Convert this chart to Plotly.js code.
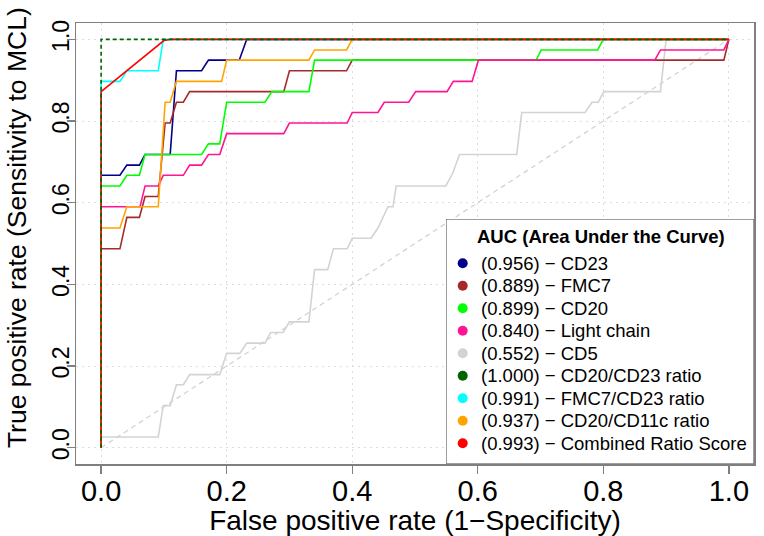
<!DOCTYPE html>
<html>
<head>
<meta charset="utf-8">
<script src="https://cdn.plot.ly/plotly-3.0.1.min.js"></script>
<style>
  body { margin: 0; background: #fff; }
  #chartDiv { width: 764px; height: 536px; }
</style>
</head>
<body>
<div id="chartDiv"></div>
<script>
// ROC curves (x = 1-specificity, y = sensitivity)
var cd23_x = [0, 0, 0.030, 0.041, 0.061, 0.070, 0.110, 0.120, 0.160, 0.171, 0.220, 0.232, 1]
var cd23_y = [0, 0.667, 0.667, 0.692, 0.692, 0.718, 0.718, 0.923, 0.923, 0.949, 0.949, 1, 1]

var fmc7_x = [0, 0, 0.030, 0.041, 0.061, 0.070, 0.091, 0.102, 0.110, 0.120, 0.131, 0.141, 0.291, 0.300, 0.391, 0.400, 0.992, 1]
var fmc7_y = [0, 0.487, 0.487, 0.564, 0.564, 0.615, 0.615, 0.795, 0.795, 0.846, 0.846, 0.872, 0.872, 0.923, 0.923, 0.949, 0.949, 1]

var cd20_x = [0, 0, 0.030, 0.041, 0.061, 0.070, 0.160, 0.171, 0.189, 0.200, 0.261, 0.272, 0.331, 0.340, 0.693, 0.701, 0.791, 0.800, 1]
var cd20_y = [0, 0.641, 0.641, 0.667, 0.667, 0.718, 0.718, 0.744, 0.744, 0.846, 0.846, 0.872, 0.872, 0.949, 0.949, 0.974, 0.974, 1, 1]

var light_x = [0, 0, 0.062, 0.070, 0.091, 0.099, 0.131, 0.141, 0.160, 0.171, 0.189, 0.200, 0.291, 0.300, 0.392, 0.400,
               0.441, 0.451, 0.490, 0.501, 0.551, 0.561, 0.591, 0.601, 0.882, 0.891, 0.992, 1]
var light_y = [0, 0.590, 0.590, 0.641, 0.641, 0.667, 0.667, 0.692, 0.692, 0.718, 0.718, 0.769, 0.769, 0.795, 0.795, 0.821,
               0.821, 0.846, 0.846, 0.872, 0.872, 0.897, 0.897, 0.949, 0.949, 0.974, 0.974, 1]

var cd5_x = [0, 0, 0.091, 0.099, 0.110, 0.120, 0.131, 0.141, 0.189, 0.200, 0.221, 0.232, 0.261, 0.270, 0.290, 0.300,
             0.331, 0.340, 0.361, 0.370, 0.392, 0.400, 0.430, 0.441, 0.457, 0.465, 0.470, 0.549, 0.560, 0.571,
             0.662, 0.670, 0.771, 0.782, 0.792, 0.801, 0.891, 0.900, 1]
var cd5_y = [0, 0.026, 0.026, 0.103, 0.103, 0.154, 0.154, 0.179, 0.179, 0.231, 0.231, 0.256, 0.256, 0.282, 0.282, 0.308,
             0.308, 0.436, 0.436, 0.487, 0.487, 0.513, 0.513, 0.538, 0.590, 0.590, 0.641, 0.641, 0.672, 0.718,
             0.718, 0.821, 0.821, 0.846, 0.846, 0.872, 0.872, 1, 1]

var ratio2023_x = [0, 0, 1]
var ratio2023_y = [0, 1, 1]

var ratioFmc7_x = [0, 0, 0.030, 0.041, 0.091, 0.099, 1]
var ratioFmc7_y = [0, 0.897, 0.897, 0.923, 0.923, 1, 1]

var ratio11c_x = [0, 0, 0.030, 0.041, 0.091, 0.102, 0.110, 0.120, 0.192, 0.200, 0.331, 0.340, 0.391, 0.400, 1]
var ratio11c_y = [0, 0.538, 0.538, 0.590, 0.590, 0.846, 0.846, 0.897, 0.897, 0.949, 0.949, 0.974, 0.974, 1, 1]

var combined_x = [0, 0, 0.100, 0.112, 1]
var combined_y = [0, 0.872, 0.997, 1, 1]

var chance_x = [0, 1]
var chance_y = [0, 1]

var names = ['CD23', 'FMC7', 'CD20', 'Light chain', 'CD5', 'CD20/CD23 ratio', 'FMC7/CD23 ratio', 'CD20/CD11c ratio', 'Combined Ratio Score']
var aucs = [0.956, 0.889, 0.899, 0.840, 0.552, 1.000, 0.991, 0.937, 0.993]
var colors = ['#00008B', '#A52A2A', '#00FF00', '#FF1493', '#D3D3D3', '#006400', '#00FFFF', '#FFA500', '#FF0000']

var tickVals = [0, 0.2, 0.4, 0.6, 0.8, 1.0]
var tickText = ['0.0', '0.2', '0.4', '0.6', '0.8', '1.0']

var curvesX = [cd23_x, fmc7_x, cd20_x, light_x, cd5_x, ratio2023_x, ratioFmc7_x, ratio11c_x, combined_x]
var curvesY = [cd23_y, fmc7_y, cd20_y, light_y, cd5_y, ratio2023_y, ratioFmc7_y, ratio11c_y, combined_y]

// draw order: dashed dark green goes on top of the red one
var order = [4, 0, 1, 2, 3, 6, 7, 8, 5]

var data = [{
  x: chance_x, y: chance_y, mode: 'lines', hoverinfo: 'skip', showlegend: false,
  line: {color: '#D3D3D3', width: 1.3, dash: '5px,4px'}
}]
order.forEach((i) => {
  data.push({
    x: curvesX[i], y: curvesY[i], mode: 'lines', name: names[i], showlegend: false,
    line: {color: colors[i], width: 1.6, dash: i == 5 ? '4px,3px' : 'solid'}
  })
})

// hand made legend box, in its own little pixel-scaled axes
var boxW = 308, boxH = 245
var legY = names.map((n, i) => 200.7 - i * 22.5)
data.push({
  x: names.map(() => 16.7), y: legY, xaxis: 'x2', yaxis: 'y2', mode: 'markers',
  hoverinfo: 'skip', showlegend: false,
  marker: {color: colors, size: 10, line: {width: 0}}
})

var font = 'Liberation Sans, Arial, sans-serif'
var annotations = [{
  xref: 'x2', yref: 'y2', x: 155, y: 227.3, showarrow: false, xanchor: 'center', yanchor: 'middle',
  text: '<b>AUC (Area Under the Curve)</b>',
  font: {family: font, size: 18.5, color: '#000'}
}]
names.forEach((n, i) => {
  annotations.push({
    xref: 'x2', yref: 'y2', x: 33, y: legY[i], showarrow: false, xanchor: 'left', yanchor: 'middle',
    text: '(' + aucs[i].toFixed(3) + ') \u2212 ' + n,
    font: {family: font, size: 18.5, color: '#000'}
  })
})
// y title as an annotation so it can sit a bit above the plot centre like the original
annotations.push({
  xref: 'paper', yref: 'paper', x: -0.087, y: 0.535, showarrow: false, textangle: -90,
  xanchor: 'center', yanchor: 'middle',
  text: 'True positive rate (Sensitivity to MCL)',
  font: {family: font, size: 26.5, color: '#000'}
})

var frameCol = '#7f7f7f'
var layout = {
  width: 764,
  height: 536,
  margin: {l: 76, r: 10, t: 23, b: 72},
  paper_bgcolor: '#fff',
  plot_bgcolor: '#fff',
  showlegend: false,
  hovermode: false,
  xaxis: {
    range: [-0.04, 1.04],
    showline: true, mirror: true, linecolor: frameCol, linewidth: 1.5,
    zeroline: false,
    showgrid: true, gridcolor: '#dcdcdc', griddash: '2px,4px', gridwidth: 1,
    tickmode: 'array', tickvals: tickVals, ticktext: tickText,
    ticks: 'outside', ticklen: 8, tickwidth: 1.3, tickcolor: frameCol,
    ticklabelstandoff: -7,
    tickfont: {family: font, size: 29, color: '#000'},
    title: {text: 'False positive rate (1\u2212Specificity)', standoff: 3,
      font: {family: font, size: 28, color: '#000'}}
  },
  yaxis: {
    range: [-0.04, 1.04],
    showline: true, mirror: true, linecolor: frameCol, linewidth: 1.5,
    zeroline: false,
    showgrid: true, gridcolor: '#dcdcdc', griddash: '2px,4px', gridwidth: 1,
    tickmode: 'array', tickvals: tickVals, ticktext: tickText,
    ticks: 'outside', ticklen: 8, tickwidth: 1.3, tickcolor: frameCol,
    tickangle: -90,
    ticklabelstandoff: -12,
    tickfont: {family: font, size: 23, color: '#000'}
  },
  xaxis2: {domain: [(446 - 76) / 678, 1], range: [0, boxW], visible: false, fixedrange: true, anchor: 'y2'},
  yaxis2: {domain: [0, boxH / 441], range: [0, boxH], visible: false, fixedrange: true, anchor: 'x2'},
  shapes: [{
    type: 'rect', xref: 'x2', yref: 'y2', x0: 0, x1: boxW, y0: 0, y1: boxH, layer: 'below',
    fillcolor: '#fff', line: {color: frameCol, width: 1.5}
  }],
  annotations: annotations
}

Plotly.newPlot('chartDiv', data, layout, {staticPlot: true})
</script>
</body>
</html>
